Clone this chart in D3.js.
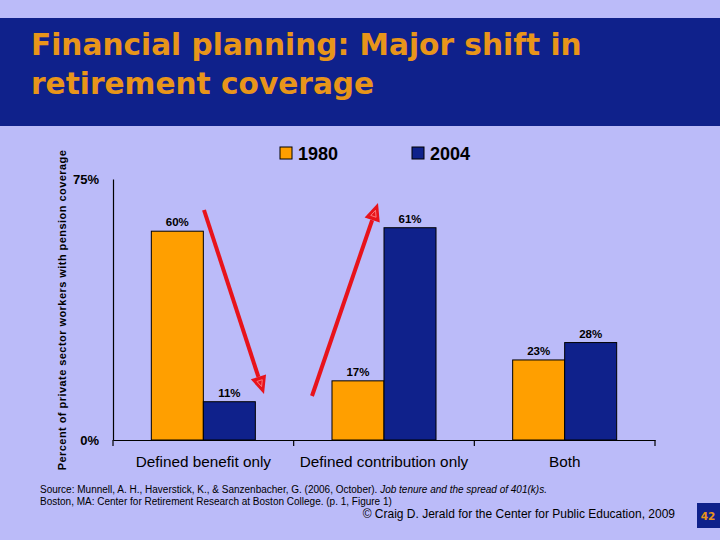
<!DOCTYPE html>
<html><head><meta charset="utf-8">
<script src="https://cdn.jsdelivr.net/npm/d3@7"></script>
<style>
html,body{margin:0;padding:0;background:#BBBBF9;}
svg{display:block;}
</style></head>
<body>
<script>
const categories = ["Defined benefit only", "Defined contribution only", "Both"];
const seriesNames = ["1980", "2004"];
const values1980 = [60, 17, 23];
const values2004 = [11, 61, 28];
const yTicks = [0, 75];
const titleLines = ["Financial planning: Major shift in", "retirement coverage"];
const colors = ["#FF9F00", "#0F218B"];

const W = 720, H = 540;
const svg = d3.select("body").append("svg").attr("width", W).attr("height", H);
svg.append("rect").attr("width", W).attr("height", H).attr("fill", "#BBBBF9");

// title band
svg.append("rect").attr("x", 0).attr("y", 18).attr("width", W).attr("height", 108).attr("fill", "#0F218B");
svg.selectAll("text.title").data(titleLines).enter().append("text")
  .attr("x", 31).attr("y", (d, i) => 55 + i * 39)
  .attr("font-family", "DejaVu Sans, Verdana").attr("font-weight", "bold")
  .attr("font-size", 29.6).attr("fill", "#E8951A").text(d => d);

// chart
const x0 = d3.scaleBand().domain(categories).range([113, 655]).padding(0);
const x1 = d3.scaleBand().domain(seriesNames).range([0, x0.bandwidth()]).paddingInner(0).paddingOuter(0.737);
const y = d3.scaleLinear().domain([0, 75]).range([440, 179]);

const data = categories.map((c, i) => ({cat: c, vals: [values1980[i], values2004[i]]}));

const g = svg.append("g");
data.forEach(d => {
  d.vals.forEach((v, j) => {
    const bx = x0(d.cat) + x1(seriesNames[j]);
    g.append("rect").attr("x", bx).attr("y", y(v)).attr("width", x1.bandwidth())
      .attr("height", y(0) - y(v)).attr("fill", colors[j]).attr("stroke", "#000").attr("stroke-width", 1);
    g.append("text").attr("x", bx + x1.bandwidth() / 2).attr("y", y(v) - 5)
      .attr("text-anchor", "middle").attr("font-family", "Liberation Sans, Arial")
      .attr("font-weight", "bold").attr("font-size", 11.5).attr("fill", "#000").text(v + "%");
  });
});

// axes
const yAxis = d3.axisLeft(y).tickValues(yTicks).tickSize(0).tickFormat(d => d + "%");
const ya = svg.append("g").attr("transform", "translate(113,0)").call(yAxis);
ya.select(".domain").attr("stroke", "#000").attr("stroke-width", 1.2);
ya.selectAll("text").attr("font-family", "Liberation Sans, Arial").attr("font-size", 13)
  .attr("font-weight", "bold").attr("fill", "#000").attr("x", -14).attr("dy", "0.35em");

const xAxis = d3.axisBottom(x0).tickSize(0);
const xa = svg.append("g").attr("transform", "translate(0,440)").call(xAxis);
xa.select(".domain").attr("stroke", "#000").attr("stroke-width", 1.2);
xa.selectAll("text").attr("font-family", "Liberation Sans, Arial").attr("font-size", 15.3)
  .attr("fill", "#000").attr("y", 27).attr("dy", 0);
// category separator ticks
const bounds = categories.map(c => x0(c)).concat([x0(categories[categories.length - 1]) + x0.bandwidth()]);
xa.selectAll("line.sep").data(bounds).enter().append("line").attr("class", "sep")
  .attr("x1", d => d).attr("x2", d => d).attr("y1", 0).attr("y2", 6)
  .attr("stroke", "#000").attr("stroke-width", 1.2);

// y title
svg.append("text").attr("transform", "translate(66,310) rotate(-90)")
  .attr("text-anchor", "middle").attr("font-family", "Liberation Sans, Arial")
  .attr("font-weight", "bold").attr("font-size", 11).attr("letter-spacing", 0.45)
  .attr("fill", "#000").text("Percent of private sector workers with pension coverage");

// legend
const leg = svg.append("g");
[[280, 0], [412, 1]].forEach(([lx, j]) => {
  leg.append("rect").attr("x", lx).attr("y", 147).attr("width", 12).attr("height", 12)
    .attr("fill", colors[j]).attr("stroke", "#000").attr("stroke-width", 1);
  leg.append("text").attr("x", lx + 18).attr("y", 160).attr("font-family", "Liberation Sans, Arial")
    .attr("font-weight", "bold").attr("font-size", 18).attr("fill", "#000").text(seriesNames[j]);
});

// arrows
function arrow(xs, ys, xe, ye) {
  const ang = Math.atan2(ye - ys, xe - xs);
  const headLen = 18, headW = 8;
  const bx = xe - headLen * Math.cos(ang), by = ye - headLen * Math.sin(ang);
  svg.append("line").attr("x1", xs).attr("y1", ys).attr("x2", bx).attr("y2", by)
    .attr("stroke", "#E8131B").attr("stroke-width", 4);
  const px = -Math.sin(ang), py = Math.cos(ang);
  const pts = [[xe, ye], [bx + px * headW, by + py * headW], [bx - px * headW, by - py * headW]];
  svg.append("polygon").attr("points", pts.map(p => p.join(",")).join(" ")).attr("fill", "#E8131B");
  const cx = (pts[0][0] + pts[1][0] + pts[2][0]) / 3, cy = (pts[0][1] + pts[1][1] + pts[2][1]) / 3;
  const inner = pts.map(p => [cx + (p[0] - cx) * 0.35, cy + (p[1] - cy) * 0.35]);
  svg.append("polygon").attr("points", inner.map(p => p.join(",")).join(" "))
    .attr("fill", "none").attr("stroke", "#FF9090").attr("stroke-width", 0.8);
}
arrow(204, 210, 264, 394);
arrow(312, 396, 378, 203);

// source
const src = svg.append("text").attr("x", 40).attr("y", 493).attr("font-family", "Liberation Sans, Arial")
  .attr("font-size", 10).attr("fill", "#000");
src.append("tspan").text("Source: Munnell, A. H., Haverstick, K., & Sanzenbacher, G. (2006, October). ");
src.append("tspan").attr("font-style", "italic").text("Job tenure and the spread of 401(k)s.");
svg.append("text").attr("x", 40).attr("y", 505).attr("font-family", "Liberation Sans, Arial")
  .attr("font-size", 10).attr("fill", "#000")
  .text("Boston, MA: Center for Retirement Research at Boston College. (p. 1, Figure 1)");

svg.append("text").attr("x", 675).attr("y", 518).attr("text-anchor", "end")
  .attr("font-family", "Liberation Sans, Arial").attr("font-size", 12).attr("fill", "#000")
  .text("© Craig D. Jerald for the Center for Public Education, 2009");

svg.append("rect").attr("x", 697).attr("y", 503).attr("width", 23).attr("height", 25).attr("fill", "#0F218B");
svg.append("text").attr("x", 708).attr("y", 520).attr("text-anchor", "middle")
  .attr("font-family", "DejaVu Sans, Verdana").attr("font-weight", "bold").attr("font-size", 10.5)
  .attr("fill", "#E8951A").text("42");
</script>
</body></html>
